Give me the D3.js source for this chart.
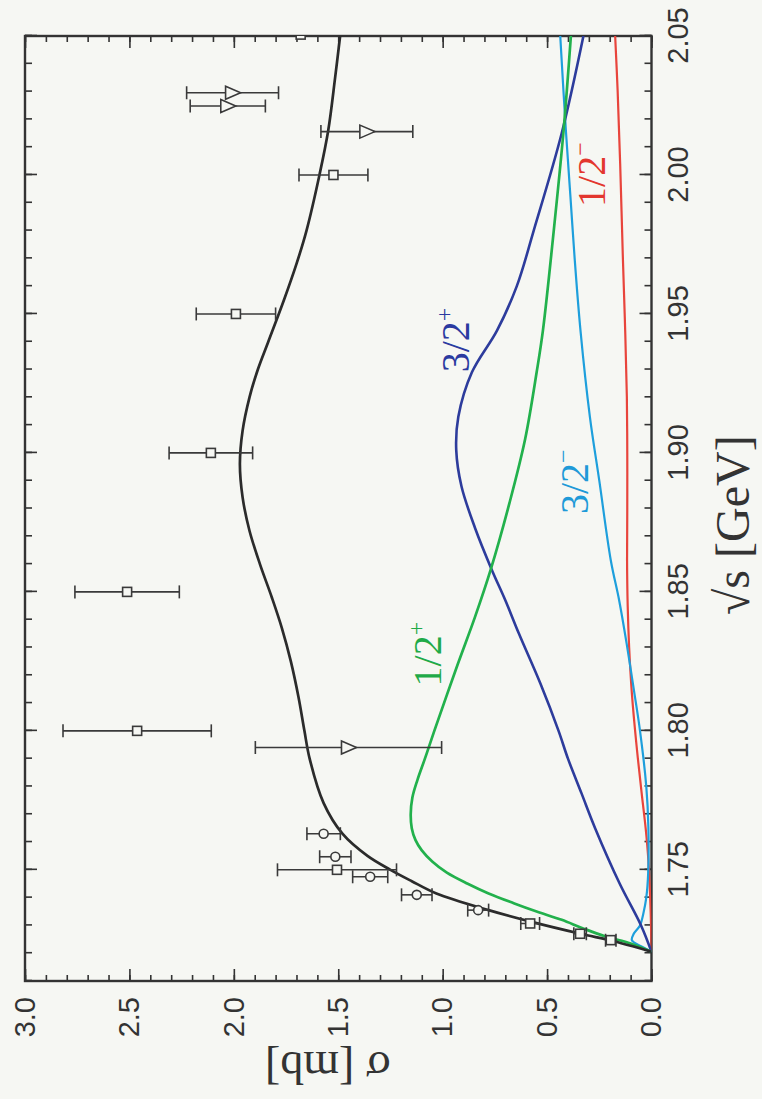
<!DOCTYPE html>
<html>
<head>
<meta charset="utf-8">
<script src="https://cdn.jsdelivr.net/npm/d3@7"></script>
<style>
  html, body { margin: 0; padding: 0; background: #f6f7f3; }
  svg { display: block; }
</style>
</head>
<body>
<svg id="chart" width="762" height="1099"></svg>
<script>
// ---- data: [sqrt(s) GeV, sigma mb] ----
const totalCurve = [[1.7205,0],[1.7225,0.09],[1.7245,0.19],[1.727,0.34],[1.731,0.56],[1.7355,0.78],[1.7415,1.03],[1.746,1.15],[1.75,1.25],[1.755,1.36],[1.763,1.48],[1.774,1.57],[1.79,1.637],[1.80,1.662],[1.812,1.69],[1.825,1.727],[1.837,1.77],[1.848,1.818],[1.86,1.875],[1.872,1.925],[1.884,1.958],[1.896,1.971],[1.908,1.958],[1.92,1.925],[1.93,1.885],[1.94,1.835],[1.955,1.76],[1.968,1.70],[1.98,1.652],[2.00,1.59],[2.016,1.548],[2.035,1.515],[2.05,1.491]];
const half_plus = [[1.7205,0],[1.7235,0.1],[1.726,0.22],[1.729,0.33],[1.732,0.43],[1.735,0.55],[1.738,0.66],[1.7415,0.78],[1.745,0.88],[1.749,0.98],[1.753,1.05],[1.757,1.1],[1.7607,1.13],[1.765,1.148],[1.770,1.153],[1.776,1.145],[1.7823,1.121],[1.79,1.085],[1.80,1.04],[1.8235,0.93],[1.841,0.845],[1.858,0.77],[1.882,0.68],[1.905,0.605],[1.929,0.55],[1.944,0.52],[1.98,0.468],[2.016,0.421],[2.05,0.386]];
const threeHalf_plus = [[1.7205,0],[1.73,0.05],[1.745,0.152],[1.765,0.27],[1.7775,0.335],[1.79,0.40],[1.80,0.445],[1.817,0.532],[1.835,0.635],[1.847,0.70],[1.858,0.765],[1.873,0.845],[1.888,0.91],[1.901,0.935],[1.913,0.925],[1.929,0.86],[1.944,0.74],[1.96,0.645],[1.98,0.564],[2.015,0.43],[2.05,0.326]];
const threeHalf_minus = [[1.7205,0],[1.7225,0.05],[1.7247,0.094],[1.727,0.085],[1.730,0.055],[1.7343,0.039],[1.74,0.025],[1.7487,0.016],[1.7655,0.015],[1.78,0.025],[1.80,0.055],[1.815,0.085],[1.8314,0.119],[1.847,0.155],[1.8614,0.195],[1.89,0.25],[1.913,0.295],[1.944,0.34],[1.97,0.368],[1.992,0.388],[2.016,0.41],[2.05,0.437]];
const half_minus = [[1.7205,0],[1.735,0.004],[1.7535,0.015],[1.765,0.028],[1.7775,0.047],[1.795,0.072],[1.8135,0.094],[1.83,0.107],[1.845,0.114],[1.8614,0.117],[1.88,0.116],[1.90,0.116],[1.92,0.118],[1.944,0.126],[1.97,0.137],[2.004,0.150],[2.03,0.162],[2.05,0.174]];

// measured points: [sqrt(s), sigma, error]
const squarePoints = [[1.7247,0.195,0.025],[1.727,0.342,0.03],[1.7307,0.581,0.045],[1.75,1.506,0.285],[1.80,2.463,0.355],[1.85,2.511,0.25],[1.90,2.11,0.2],[1.95,1.99,0.19],[2.00,1.523,0.165],[2.0505,1.68,0]];
const circlePoints = [[1.7355,0.83,0.05],[1.741,1.124,0.073],[1.7475,1.347,0.084],[1.7547,1.514,0.075],[1.763,1.57,0.08]];
const trianglePoints = [[1.794,1.451,0.446],[2.0156,1.363,0.22],[2.0248,2.029,0.18],[2.0296,2.006,0.22]];

const sqrtSTicks = [1.75, 1.80, 1.85, 1.90, 1.95, 2.00, 2.05];
const sigmaTicks = [0.0, 0.5, 1.0, 1.5, 2.0, 2.5, 3.0];

const curveLabels = [
  {text: "1/2", sup: "+", s: 1.816, sig: 1.01, color: "#1faa48"},
  {text: "3/2", sup: "+", s: 1.929, sig: 0.873, color: "#2b3aa0"},
  {text: "3/2", sup: "\u2212", s: 1.878, sig: 0.305, color: "#1f9ad8"},
  {text: "1/2", sup: "\u2212", s: 1.9885, sig: 0.222, color: "#e3362e"}
];

// ---- layout (drawn upright, then turned a quarter turn) ----
const W = 945, H = 626.5;
const x = d3.scaleLinear().domain([1.71, 2.05]).range([0, W]);
const y = d3.scaleLinear().domain([0, 3]).range([H, 0]);

const svg = d3.select("#chart");
const g = svg.append("g").attr("transform", "translate(25,981) rotate(-90)");

g.append("defs").append("clipPath").attr("id", "plotclip")
  .append("rect").attr("width", W).attr("height", H);

const axisColor = "#333";
const tickFont = "'Liberation Sans', Arial, sans-serif";

function drawAxis(axis, transform, labels) {
  const a = g.append("g").attr("transform", transform).call(axis);
  a.select(".domain").remove();
  a.selectAll("line").attr("stroke", axisColor).attr("stroke-width", 1.6);
  a.selectAll("text").attr("fill", "#333").style("font-family", tickFont).style("font-size", "29px");
  if (!labels) a.selectAll("text").remove();
  return a;
}

const sMinor = d3.range(1.71, 2.0501, 0.01);
const sigMinor = d3.range(0, 3.001, 0.1);

// sqrt(s) axis (bottom in upright frame) + mirror
drawAxis(d3.axisBottom(x).tickValues(sMinor).tickSize(-7).tickFormat(""), `translate(0,${H})`, false);
drawAxis(d3.axisBottom(x).tickValues(sqrtSTicks).tickSize(-12).tickPadding(15.5).tickFormat(d3.format(".2f")), `translate(0,${H})`, true);
drawAxis(d3.axisTop(x).tickValues(sMinor).tickSize(-7).tickFormat(""), "translate(0,0)", false);
drawAxis(d3.axisTop(x).tickValues(sqrtSTicks).tickSize(-12).tickFormat(""), "translate(0,0)", false);

// sigma axis (left in upright frame) + mirror
drawAxis(d3.axisLeft(y).tickValues(sigMinor).tickSize(-6).tickFormat(""), "translate(0,0)", false);
drawAxis(d3.axisLeft(y).tickValues(sigmaTicks).tickSize(-12).tickPadding(16).tickFormat(d3.format(".1f")), "translate(0,0)", true);
drawAxis(d3.axisRight(y).tickValues(sigMinor).tickSize(-6).tickFormat(""), `translate(${W},0)`, false);
drawAxis(d3.axisRight(y).tickValues(sigmaTicks).tickSize(-12).tickFormat(""), `translate(${W},0)`, false);

// frame
g.append("rect").attr("width", W).attr("height", H)
  .attr("fill", "none").attr("stroke", axisColor).attr("stroke-width", 2.4);

// curves
const line = d3.line().x(d => x(d[0])).y(d => y(d[1])).curve(d3.curveCatmullRom.alpha(0.5));
const plot = g.append("g").attr("clip-path", "url(#plotclip)");
const series = [
  {data: half_minus, color: "#e8453c", w: 2.2},
  {data: threeHalf_minus, color: "#1e9fdc", w: 2.2},
  {data: threeHalf_plus, color: "#2d3c9c", w: 2.6},
  {data: half_plus, color: "#22b14c", w: 2.7},
  {data: totalCurve, color: "#2b2b2b", w: 2.7}
];
plot.selectAll("path.curve").data(series).join("path")
  .attr("class", "curve")
  .attr("d", d => line(d.data))
  .attr("fill", "none")
  .attr("stroke", d => d.color)
  .attr("stroke-width", d => d.w);

// error bars
const allPoints = squarePoints.concat(circlePoints, trianglePoints).filter(p => p[2] > 0);
const cap = 6.5;
const eb = plot.append("g").attr("stroke", "#3a3a3a").attr("stroke-width", 1.6);
eb.selectAll("line.bar").data(allPoints).join("line").attr("class", "bar")
  .attr("x1", d => x(d[0])).attr("x2", d => x(d[0]))
  .attr("y1", d => y(d[1] - d[2])).attr("y2", d => y(d[1] + d[2]));
eb.selectAll("line.lo").data(allPoints).join("line").attr("class", "lo")
  .attr("x1", d => x(d[0]) - cap).attr("x2", d => x(d[0]) + cap)
  .attr("y1", d => y(d[1] - d[2])).attr("y2", d => y(d[1] - d[2]));
eb.selectAll("line.hi").data(allPoints).join("line").attr("class", "hi")
  .attr("x1", d => x(d[0]) - cap).attr("x2", d => x(d[0]) + cap)
  .attr("y1", d => y(d[1] + d[2])).attr("y2", d => y(d[1] + d[2]));

// markers
const mk = plot.append("g").attr("stroke", "#3a3a3a").attr("stroke-width", 1.6).attr("fill", "#f6f7f3");
mk.selectAll("rect").data(squarePoints).join("rect")
  .attr("x", d => x(d[0]) - 4.5).attr("y", d => y(d[1]) - 4.5)
  .attr("width", 9).attr("height", 9);
mk.selectAll("circle").data(circlePoints).join("circle")
  .attr("cx", d => x(d[0])).attr("cy", d => y(d[1])).attr("r", 4.5);
mk.selectAll("path").data(trianglePoints).join("path")
  .attr("transform", d => `translate(${x(d[0])},${y(d[1])})`)
  .attr("d", "M-6.5,-7L6.5,-7L0,8Z");

// curve labels
const lab = g.append("g").style("font-family", "'Liberation Serif', 'Times New Roman', serif");
curveLabels.forEach(l => {
  const t = lab.append("text").attr("x", x(l.s)).attr("y", y(l.sig))
    .attr("fill", l.color).style("font-size", "40px");
  t.append("tspan").text(l.text);
  t.append("tspan").attr("dy", -17).style("font-size", "24px").text(l.sup);
});

// axis titles
g.append("text")
  .attr("x", x(1.874)).attr("y", H + 97)
  .attr("text-anchor", "middle").attr("fill", "#333")
  .style("font-family", "'Liberation Serif', 'Times New Roman', serif")
  .style("font-size", "48px")
  .text("\u221As [GeV]");

g.append("text")
  .attr("transform", `translate(-85,${y(1.55)}) rotate(-90)`)
  .attr("dy", "0.3em")
  .attr("text-anchor", "middle").attr("fill", "#333")
  .style("font-family", "'Liberation Serif', 'Times New Roman', serif")
  .style("font-size", "46px")
  .text("\u03C3 [mb]");
</script>
</body>
</html>
